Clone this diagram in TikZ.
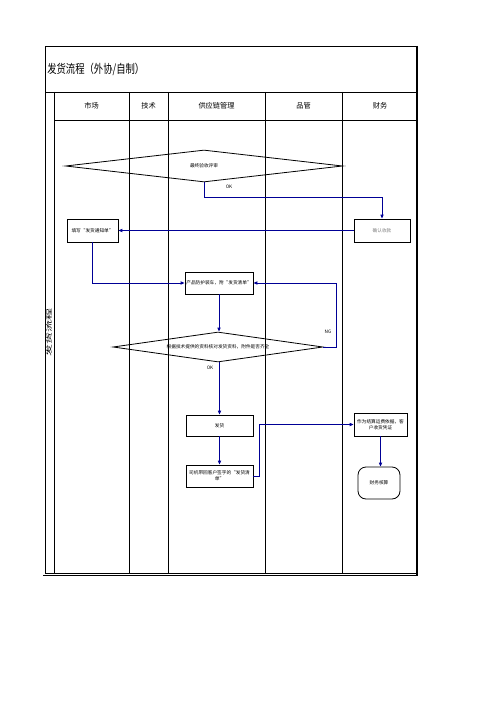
\documentclass[tikz,border=0pt]{standalone}
\usepackage{fontspec}
\setmainfont{Noto Sans CJK SC}
\usetikzlibrary{shapes.geometric,arrows.meta,positioning,calc}
\definecolor{flowblue}{RGB}{0,0,150}

\begin{document}
\begin{tikzpicture}[x=0.75pt,y=-0.75pt,
      lane/.style = {line width=0.7pt},
      flowbox/.style = {draw, line width=0.6pt, inner sep=0pt, align=center,
         font=\fontsize{3.5pt}{4.6pt}\selectfont},
      decision/.style = {diamond, draw, line width=0.6pt, inner sep=0pt, aspect=8,
         font=\fontsize{3.5pt}{4.6pt}\selectfont},
      flow/.style = {draw=flowblue, line width=0.7pt,
         -{Triangle[length=3pt,width=2.4pt]}},
      tag/.style = {inner sep=0pt, font=\fontsize{3.5pt}{4pt}\selectfont},
      head/.style = {inner sep=0pt, font=\fontsize{5.4pt}{6pt}\selectfont}]

   \useasboundingbox (0,0) rectangle (496,702);

   % frame and lanes
   \draw[lane] (45,46) rectangle (417,573);
   \draw[line width=1.5pt] (417,46) -- (417,576);
   \draw[lane] (43,575.5) -- (417,575.5);
   \draw[lane] (45,92) -- (417,92);
   \draw[lane] (54,120) -- (417,120);
   \foreach \lx in {54,129,168,265,342}
      \draw[lane] (\lx,92) -- (\lx,573);

   % title and lane heads
   \node[anchor=west, inner sep=0pt] (title) at (47,69)
      {\fontsize{7pt}{8pt}\selectfont\scalebox{1}[1.3]{发货流程（外协/自制）}};
   \node[rotate=90, inner sep=0pt] (lanename) at (49,332)
      {\fontsize{4.5pt}{5pt}\selectfont\scalebox{2}[1]{发货流程}};
   \node[head] (market)  at (91.5,106)  {市场};
   \node[head] (tech)    at (148.5,106) {技术};
   \node[head] (supply)  at (216.5,106) {供应链管理};
   \node[head] (quality) at (303.5,106) {品管};
   \node[head] (finance) at (380,106)   {财务};

   % steps
   \node[decision, minimum width=207.75pt, minimum height=24pt]
      (review) at (204,166) {最终验收评审};
   \node[flowbox, minimum width=38.25pt, minimum height=17.25pt]
      (notice) at (92.5,230.5) {填写“发货通知单”};
   \node[flowbox, text=gray, minimum width=42pt, minimum height=17.25pt]
      (payment) at (382,230.5) {确认收款};
   \node[flowbox, minimum width=51pt, minimum height=16.5pt]
      (loading) at (219,283) {产品防护装车，附“发货清单”};
   \node[decision, minimum width=157.5pt, minimum height=22.5pt]
      (check) at (218,347) {根据技术提供的资料核对发货资料，附件是否齐全};
   \node[flowbox, minimum width=50.25pt, minimum height=15.75pt]
      (ship) at (219.5,425.5) {发货};
   \node[flowbox, minimum width=50.25pt, minimum height=16.5pt]
      (receipt) at (219.5,476) {司机带回客户签字的“发货清\\单”};
   \node[flowbox, minimum width=39.75pt, minimum height=17.25pt]
      (freight) at (380.5,424.5) {作为结算运费依据，客\\户收货凭证};
   \node[flowbox, rounded corners=6pt, minimum width=31.5pt, minimum height=24pt]
      (account) at (379,483) {财务核算};

   % labels
   \node[tag] (okA) at (229,187) {OK};
   \node[tag] (ng)  at (328,332) {NG};
   \node[tag] (okB) at (210,368) {OK};

   % connectors
   \draw[flow] (review.south) -- ++(0,15) -| (payment.north);
   \draw[flow] (payment.west) -- (notice.east);
   \draw[flow] (notice.south) |- (loading.west);
   \draw[flow] (loading.south) -- (loading.south |- check.north);
   \draw[flow] (check.east) -- ++(13,0) |- (loading.east);
   \draw[flow] (ship.north |- check.south) -- (ship.north);
   \draw[flow] (ship.south) -- (receipt.north);
   \draw[flow] (receipt.east) -- ++(6,0) |- (freight.west);
   \draw[flow] (freight.south) -- (freight.south |- account.north);

\end{tikzpicture}
\end{document}
